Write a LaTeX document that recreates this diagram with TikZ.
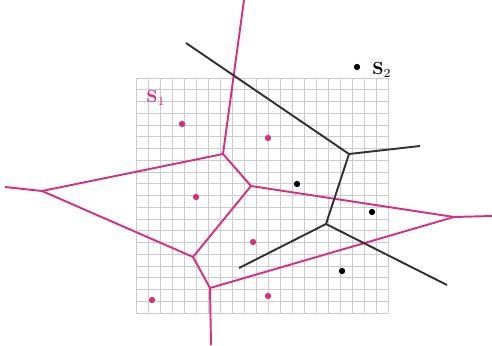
\documentclass[tikz,border=0pt]{standalone}
\usepackage{xcolor}
\definecolor{vpink}{RGB}{214,48,128}
\definecolor{vgray}{RGB}{50,50,50}
\begin{document}
\begin{tikzpicture}[x=0.02cm, y=0.02cm, thick,
		gridline/.style={gray!40, line width=0.4pt},
		pinkedge/.style={vpink, line width=1.1pt},
		blackedge/.style={vgray, line width=1.1pt},
		pinksite/.style={circle, fill=vpink, inner sep=0pt, minimum size=3.6pt},
		blacksite/.style={circle, fill=black, inner sep=0pt, minimum size=3.6pt}]
	\useasboundingbox (0,0) rectangle (492,345);
	% grid
	\foreach \i in {0,...,21}
		\draw [gridline] (136+12*\i,32) -- (136+12*\i,267);
	\foreach \j in {0,...,20}
		\draw [gridline] (136,32+11.75*\j) -- (388,32+11.75*\j);
	% pink diagram
	\coordinate (A) at (223,191);
	\coordinate (B) at (42,154);
	\coordinate (C) at (251,159);
	\coordinate (D) at (193,88);
	\coordinate (E) at (454,128);
	\coordinate (F) at (210,57);
	\coordinate (Atop) at (244,345);
	\coordinate (Bleft) at (5,158);
	\coordinate (Eright) at (492,129);
	\coordinate (Fbot) at (211,0);
	\draw [pinkedge] (Atop) -- (A) -- (B) -- (Bleft);
	\draw [pinkedge] (A) -- (C) -- (E) -- (Eright);
	\draw [pinkedge] (B) -- (D) -- (C);
	\draw [pinkedge] (D) -- (F) -- (Fbot);
	\draw [pinkedge] (F) -- (E);
	% black diagram
	\coordinate (G) at (349,191);
	\coordinate (H) at (326,121);
	\coordinate (Gstart) at (186,302);
	\coordinate (Gright) at (420,199);
	\coordinate (Hleft) at (239,77);
	\coordinate (Hlow) at (447,60);
	\draw [blackedge] (Gstart) -- (G) -- (Gright);
	\draw [blackedge] (G) -- (H) -- (Hleft);
	\draw [blackedge] (H) -- (Hlow);
	% sites
	\node [pinksite] (p1) at (182,221) {};
	\node [pinksite] (p2) at (268,207) {};
	\node [pinksite] (p3) at (196,148) {};
	\node [pinksite] (p4) at (253,103) {};
	\node [pinksite] (p5) at (152,45) {};
	\node [pinksite] (p6) at (268,49) {};
	\node [blacksite] (q1) at (357,278) {};
	\node [blacksite] (q2) at (297,161) {};
	\node [blacksite] (q3) at (372,133) {};
	\node [blacksite] (q4) at (342,74) {};
	\node [vpink] (s1) at (156,247) {\textbf{S}$_1$};
	\node (s2) at (382,275) {\textbf{S}$_2$};
\end{tikzpicture}
\end{document}
